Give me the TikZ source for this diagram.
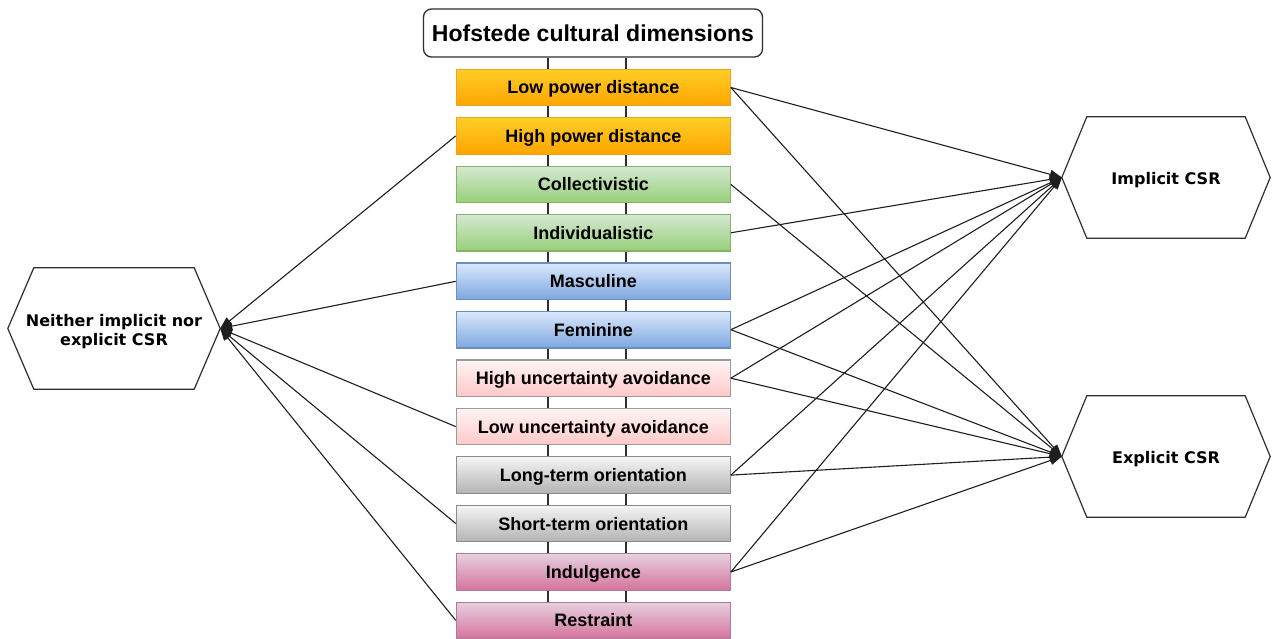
\documentclass[tikz,border=0pt]{standalone}
\usepackage{fontspec}
\setmainfont{Liberation Sans}
\newfontfamily\hexfont{DejaVu Sans}
\usetikzlibrary{arrows.meta,backgrounds}

% fill gradients and borders of the dimension boxes
\definecolor{orTop}{HTML}{FFCD28}\definecolor{orBot}{HTML}{FFA500}\definecolor{orLine}{HTML}{E8A520}
\definecolor{grTop}{HTML}{D5E8D4}\definecolor{grBot}{HTML}{97D077}\definecolor{grLine}{HTML}{82B366}
\definecolor{blTop}{HTML}{DAE8FC}\definecolor{blBot}{HTML}{7EA6E0}\definecolor{blLine}{HTML}{6C8EBF}
\definecolor{pkTop}{HTML}{FFF4F4}\definecolor{pkBot}{HTML}{FFC8C8}\definecolor{pkLine}{HTML}{9A9A9A}
\definecolor{gyTop}{HTML}{F5F5F5}\definecolor{gyBot}{HTML}{B3B3B3}\definecolor{gyLine}{HTML}{8C8C8C}
\definecolor{mgTop}{HTML}{E6D0DE}\definecolor{mgBot}{HTML}{D5739D}\definecolor{mgLine}{HTML}{B07A9A}
\definecolor{ink}{HTML}{2E2E2E}
\definecolor{wire}{HTML}{1E1E1E}

% lower a label inside its node without changing the space it claims
\newcommand\dropby[2]{\raisebox{-#1}[\height][\depth]{#2}}

\begin{document}
\begin{tikzpicture}[x=1pt,y=-1pt,
  dimbox/.style={rectangle, minimum width=274pt, minimum height=36.5pt, inner sep=0pt,
    text height=16pt, text depth=3pt,
    line width=1.1pt, font=\fontsize{18}{21}\selectfont\bfseries},
  orangebox/.style={dimbox, top color=orTop, bottom color=orBot, draw=orLine},
  greenbox/.style={dimbox, top color=grTop, bottom color=grBot, draw=grLine},
  bluebox/.style={dimbox, top color=blTop, bottom color=blBot, draw=blLine},
  pinkbox/.style={dimbox, top color=pkTop, bottom color=pkBot, draw=pkLine},
  graybox/.style={dimbox, top color=gyTop, bottom color=gyBot, draw=gyLine},
  magentabox/.style={dimbox, top color=mgTop, bottom color=mgBot, draw=mgLine},
  titlebox/.style={rectangle, rounded corners=8pt, draw=ink, fill=white, line width=1.3pt,
    minimum width=339pt, minimum height=48pt, inner sep=0pt,
    font=\fontsize{23}{27}\selectfont\bfseries},
  hexcore/.style={rectangle, minimum height=121pt, inner sep=0pt, align=center,
    font=\hexfont\bfseries\fontsize{16}{19}\selectfont},
  hexline/.style={draw=ink, line width=1.2pt, line join=miter},
  spine/.style={draw=ink, line width=1.6pt},
  link/.style={draw=wire, line width=1.1pt, -{Triangle[length=12pt,width=9pt]}}
]
\useasboundingbox (0,0) rectangle (1272,639);

% heading
\node[titlebox] (title) at (593,33) {Hofstede cultural dimensions};

% the twelve poles of the six dimensions
\node[orangebox]  (lpd) at (593.3,87.5)  {Low power distance};
\node[orangebox]  (hpd) at (593.3,135.9) {High power distance};
\node[greenbox]   (col) at (593.3,184.4) {Collectivistic};
\node[greenbox]   (ind) at (593.3,232.8) {Individualistic};
\node[bluebox]    (mas) at (593.3,281.3) {Masculine};
\node[bluebox]    (fem) at (593.3,329.7) {Feminine};
\node[pinkbox]    (hua) at (593.3,378.2) {High uncertainty avoidance};
\node[pinkbox]    (lua) at (593.3,426.6) {Low uncertainty avoidance};
\node[graybox]    (lto) at (593.3,475.1) {Long-term orientation};
\node[graybox]    (sto) at (593.3,523.5) {Short-term orientation};
\node[magentabox] (idg) at (593.3,572.0) {Indulgence};
\node[magentabox] (rst) at (593.3,620.4) {Restraint};

% two rails holding the stack under the heading
\begin{pgfonlayer}{background}
  \draw[spine] ([xshift=-45.3pt]title.south) -- ([xshift=-45.6pt]rst.north);
  \draw[spine] ([xshift=32.7pt]title.south) -- ([xshift=32.4pt]rst.north);
\end{pgfonlayer}

% outcome hexagons
\node[hexcore, minimum width=212pt] (neither) at (114,328.5)
  {\dropby{4pt}{\begin{tabular}{@{}c@{}}Neither implicit nor\\explicit CSR\end{tabular}}};
\node[hexcore, minimum width=208pt] (impl) at (1166,177.5) {\dropby{2.5pt}{Implicit CSR}};
\node[hexcore, minimum width=208pt] (expl) at (1166,456.5) {\dropby{2.5pt}{Explicit CSR}};

\foreach \h/\d in {neither/26, impl/25, expl/25}{
  \draw[hexline] (\h.west) -- ([xshift=\d pt]\h.north west) -- ([xshift=-\d pt]\h.north east)
    -- (\h.east) -- ([xshift=-\d pt]\h.south east) -- ([xshift=\d pt]\h.south west) -- cycle;
}

% links to the outcomes
\foreach \b in {hpd, mas, lua, sto, rst}
  \draw[link] (\b.west) -- (neither.east);
\foreach \b in {lpd, ind, fem, hua, lto, idg}
  \draw[link] (\b.east) -- (impl.west);
\foreach \b in {lpd, col, fem, hua, lto, idg}
  \draw[link] (\b.east) -- (expl.west);
\end{tikzpicture}
\end{document}
